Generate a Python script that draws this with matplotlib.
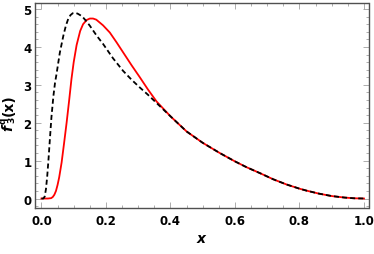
import matplotlib
matplotlib.use("Agg")
import matplotlib.pyplot as plt
from matplotlib.ticker import MultipleLocator

# Black dashed curve
x_dashed = [0.0, 0.006, 0.010, 0.014, 0.018, 0.022, 0.026, 0.031, 0.037, 0.042, 0.047,
            0.057, 0.068, 0.076, 0.083, 0.090, 0.097, 0.104, 0.112, 0.120, 0.129,
            0.140, 0.150, 0.171, 0.191, 0.222, 0.253, 0.280, 0.305, 0.330, 0.357,
            0.400, 0.450, 0.500, 0.553, 0.600, 0.635, 0.680, 0.718, 0.760, 0.800,
            0.821, 0.860, 0.900, 0.940, 0.970, 1.000]
y_dashed = [0.0, 0.0, 0.05, 0.25, 0.6, 1.05, 1.55, 2.15, 2.7, 3.05, 3.3,
            3.85, 4.3, 4.57, 4.74, 4.84, 4.89, 4.9, 4.88, 4.84, 4.78,
            4.67, 4.56, 4.3, 4.08, 3.70, 3.37, 3.13, 2.93, 2.74, 2.52,
            2.17, 1.77, 1.47, 1.20, 0.98, 0.83, 0.66, 0.51, 0.37, 0.26,
            0.21, 0.13, 0.065, 0.025, 0.006, 0.0]

# Red solid curve
x_solid = [0.0, 0.020, 0.030, 0.035, 0.040, 0.045, 0.050, 0.055, 0.0625, 0.070, 0.078,
           0.086, 0.093, 0.100, 0.109, 0.120, 0.129, 0.140, 0.150, 0.160, 0.170,
           0.191, 0.212, 0.233, 0.253, 0.280, 0.305, 0.330, 0.357,
           0.400, 0.450, 0.500, 0.553, 0.600, 0.635, 0.680, 0.718, 0.760, 0.800,
           0.821, 0.860, 0.900, 0.940, 0.970, 1.000]
y_solid = [0.0, 0.0, 0.01, 0.04, 0.1, 0.2, 0.36, 0.56, 0.95, 1.45, 2.0,
           2.6, 3.15, 3.6, 4.05, 4.42, 4.6, 4.71, 4.75, 4.75, 4.72,
           4.57, 4.38, 4.12, 3.86, 3.51, 3.20, 2.88, 2.56,
           2.17, 1.77, 1.47, 1.20, 0.98, 0.83, 0.66, 0.51, 0.37, 0.26,
           0.21, 0.13, 0.065, 0.025, 0.006, 0.0]

x_ticks = [0.0, 0.2, 0.4, 0.6, 0.8, 1.0]
x_ticklabels = ["0.0", "0.2", "0.4", "0.6", "0.8", "1.0"]
y_ticks = [0, 1, 2, 3, 4, 5]
y_ticklabels = ["0", "1", "2", "3", "4", "5"]

plt.rcParams['font.family'] = ['DejaVu Sans']
plt.rcParams['mathtext.fontset'] = 'dejavusans'

W, H = 374, 255
fig = plt.figure(figsize=(W / 100, H / 100), dpi=100)
ax = fig.add_axes([35/W, 1-209/H, (368.5-35)/W, (209-4)/H])

ax.plot(x_solid, y_solid, color='#ff0000', lw=1.3, solid_joinstyle='round')
ax.plot(x_dashed, y_dashed, color='black', lw=1.3, dashes=(2.8, 1.7))

ax.set_xlim(-0.020, 1.014)
ax.set_ylim(-0.25, 5.16)

ax.set_xticks(x_ticks)
ax.set_xticklabels(x_ticklabels)
ax.set_yticks(y_ticks)
ax.set_yticklabels(y_ticklabels)
ax.xaxis.set_minor_locator(MultipleLocator(0.05))
ax.yaxis.set_minor_locator(MultipleLocator(0.2))

ax.tick_params(which='both', direction='in', top=True, right=True, color='#a0a0a0', width=0.6)
ax.tick_params(which='major', length=4)
ax.tick_params(which='minor', length=2.2)
ax.tick_params(axis='x', which='major', pad=4, labelsize=8.5)
ax.tick_params(axis='y', which='major', pad=2.5, labelsize=8.5)
for lbl in ax.get_xticklabels() + ax.get_yticklabels():
    lbl.set_fontweight('bold')

for sp in ax.spines.values():
    sp.set_color('#505050')
    sp.set_linewidth(1.0)

ax.set_xlabel(r'$\mathbfit{x}$', fontsize=10, labelpad=3)

# y label f^q_3(x), composed of rotated pieces
def ytext(px, py, s, size, style='normal'):
    fig.text(px / W, 1 - py / H, s, rotation=90, rotation_mode='anchor',
             ha='left', va='baseline', fontsize=size, fontweight='bold', fontstyle=style)

ytext(12.5, 131.0, 'f', 10, 'italic')
ytext(5.5, 123.5, 'q', 6.5)
ytext(14.0, 123.0, '3', 6.5)
ytext(12.5, 116.5, '(x)', 10)

fig.savefig('out.png', dpi=100)
